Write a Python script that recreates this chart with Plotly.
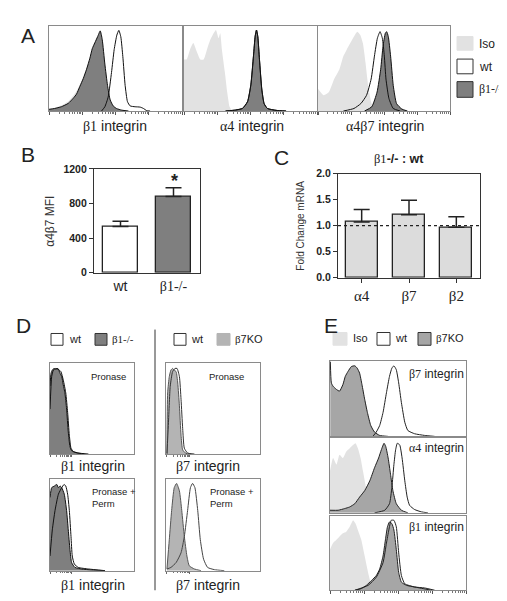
import math
import plotly.graph_objects as go

W, H = 507, 601
SANS = "Liberation Sans, Arial, sans-serif"
SERIF = "Liberation Serif, Times New Roman, serif"

# ---------------- data ----------------
# Panel A histograms: (log decade, normalised count)
A1_iso = [(0, 0.02), (0.2, 0.04), (0.4, 0.07), (0.6, 0.12), (0.75, 0.19), (0.85, 0.25), (0.95, 0.33), (1.05, 0.42),
          (1.15, 0.53), (1.25, 0.66), (1.32, 0.77), (1.40, 0.84), (1.48, 0.89), (1.55, 0.94), (1.61, 0.85),
          (1.69, 0.55), (1.77, 0.30), (1.85, 0.14), (1.94, 0.06), (2.04, 0.03), (2.2, 0.01), (2.4, 0)]
A1_ko = [(0, 0.02), (0.17, 0.03), (0.37, 0.05), (0.58, 0.09), (0.73, 0.15), (0.83, 0.20), (0.93, 0.29),
         (1.03, 0.38), (1.13, 0.49), (1.23, 0.62), (1.30, 0.73), (1.38, 0.80), (1.46, 0.87), (1.54, 0.94),
         (1.60, 0.84), (1.68, 0.55), (1.76, 0.30), (1.84, 0.13), (1.93, 0.06), (2.03, 0.03), (2.19, 0.01),
         (2.39, 0)]
A1_wt = [(1.58, 0), (1.68, 0.05), (1.78, 0.165), (1.88, 0.452), (1.96, 0.72), (2.04, 0.89), (2.10, 0.946),
         (2.16, 0.87), (2.22, 0.64), (2.29, 0.30), (2.36, 0.11), (2.44, 0.06), (2.59, 0.05), (2.74, 0.046),
         (2.84, 0.03), (2.94, 0.004), (3.04, 0)]
A2_iso = [(0, 0.605), (0.08, 0.605), (0.18, 0.72), (0.28, 0.797), (0.38, 0.70), (0.49, 0.605), (0.59, 0.605),
          (0.69, 0.72), (0.79, 0.835), (0.89, 0.912), (0.96, 0.95), (1.04, 0.854), (1.09, 0.912), (1.14, 0.72),
          (1.23, 0.452), (1.30, 0.22), (1.37, 0.05), (1.45, 0)]
A2_ko = [(1.25, 0), (1.55, 0.011), (1.76, 0.03), (1.91, 0.107), (2.01, 0.30), (2.09, 0.644), (2.14, 0.874),
         (2.18, 0.95), (2.22, 0.874), (2.27, 0.605), (2.34, 0.26), (2.41, 0.088), (2.51, 0.03), (2.77, 0.008),
         (3.07, 0)]
A2_wt = [(1.25, 0), (1.55, 0.012), (1.76, 0.032), (1.91, 0.11), (2.01, 0.31), (2.09, 0.65), (2.14, 0.88),
         (2.18, 0.95), (2.22, 0.87), (2.27, 0.60), (2.34, 0.25), (2.41, 0.085), (2.51, 0.03), (2.77, 0.008),
         (3.07, 0)]
A3_iso = [(0, 0.26), (0.17, 0.184), (0.33, 0.222), (0.49, 0.375), (0.65, 0.49), (0.77, 0.644), (0.87, 0.72),
          (0.98, 0.797), (1.09, 0.874), (1.19, 0.931), (1.28, 0.893), (1.36, 0.797), (1.44, 0.567), (1.52, 0.30),
          (1.61, 0.107), (1.69, 0.03), (1.80, 0)]
A3_wt = [(0.77, 0), (1.09, 0.03), (1.30, 0.088), (1.47, 0.184), (1.61, 0.375), (1.71, 0.644), (1.80, 0.854),
         (1.88, 0.931), (1.95, 0.854), (2.01, 0.644), (2.06, 0.375), (2.15, 0.146), (2.28, 0.03), (2.49, 0)]
A3_ko = [(1.41, 0), (1.63, 0.05), (1.79, 0.222), (1.90, 0.49), (1.97, 0.758), (2.04, 0.912), (2.08, 0.931),
         (2.13, 0.874), (2.20, 0.644), (2.28, 0.30), (2.38, 0.088), (2.54, 0.023), (2.71, 0)]

# Panel B
B_groups = ["wt", "β1-/-"]
B_mfi = [535, 880]
B_err = [60, 102]
B_ticks = [0, 400, 800, 1200]

# Panel C
C_genes = ["α4", "β7", "β2"]
C_fold = [1.07, 1.21, 0.97]
C_err = [0.24, 0.28, 0.20]
C_ticks = [0.0, 0.5, 1.0, 1.5, 2.0]

# Panel D histograms
D1_ko = [(0, 0.743), (0.05, 0.886), (0.11, 0.921), (0.19, 0.939), (0.27, 0.929), (0.37, 0.939), (0.48, 0.886),
         (0.56, 0.85), (0.63, 0.761), (0.71, 0.671), (0.79, 0.493), (0.87, 0.243), (0.95, 0.082), (1.03, 0.036),
         (1.19, 0.018), (1.43, 0.007), (1.67, 0)]
D1_wt = [(0, 0.493), (0.08, 0.85), (0.16, 0.921), (0.27, 0.939), (0.40, 0.929), (0.52, 0.904), (0.63, 0.814),
         (0.75, 0.671), (0.84, 0.457), (0.92, 0.207), (1.0, 0.064), (1.11, 0.029), (1.35, 0.011), (1.83, 0)]
D3_ko = [(0, 0.795), (0.08, 0.901), (0.21, 0.919), (0.32, 0.936), (0.40, 0.901), (0.48, 0.919), (0.56, 0.901),
         (0.68, 0.83), (0.79, 0.654), (0.87, 0.442), (0.95, 0.23), (1.03, 0.088), (1.19, 0.035), (1.51, 0.018),
         (1.98, 0.007), (2.62, 0)]
D3_wt = [(0, 0.159), (0.11, 0.442), (0.24, 0.654), (0.40, 0.83), (0.56, 0.901), (0.67, 0.936), (0.75, 0.919),
         (0.84, 0.83), (0.92, 0.654), (1.0, 0.371), (1.06, 0.159), (1.16, 0.071), (1.35, 0.035), (1.83, 0.018),
         (2.62, 0)]
D2_ko = [(0.04, 0.011), (0.07, 0.671), (0.14, 0.85), (0.21, 0.921), (0.28, 0.939), (0.35, 0.921), (0.43, 0.904),
         (0.50, 0.779), (0.57, 0.529), (0.64, 0.207), (0.71, 0.046), (0.85, 0.007), (1.06, 0)]
D2_wt = [(0.04, 0), (0.10, 0.314), (0.18, 0.743), (0.28, 0.904), (0.38, 0.939), (0.47, 0.939), (0.57, 0.85),
         (0.64, 0.60), (0.71, 0.279), (0.78, 0.064), (0.92, 0.011), (1.21, 0)]
D4_ko = [(0.04, 0.018), (0.14, 0.336), (0.24, 0.654), (0.35, 0.901), (0.45, 0.947), (0.57, 0.866), (0.67, 0.654),
         (0.78, 0.371), (0.89, 0.159), (0.99, 0.053), (1.21, 0.018), (1.49, 0)]
D4_wt = [(0.04, 0.018), (0.21, 0.035), (0.43, 0.088), (0.64, 0.194), (0.78, 0.371), (0.92, 0.654), (1.04, 0.901),
         (1.13, 0.947), (1.23, 0.901), (1.35, 0.654), (1.46, 0.336), (1.60, 0.124), (1.77, 0.035), (2.06, 0.011),
         (2.48, 0)]

# Panel E histograms
E1_ko = [(0.01, 0.99), (0.04, 0.709), (0.09, 0.665), (0.19, 0.622), (0.28, 0.60), (0.38, 0.687), (0.45, 0.796),
         (0.53, 0.861), (0.63, 0.926), (0.73, 0.935), (0.80, 0.904), (0.87, 0.839), (0.94, 0.687), (1.02, 0.491),
         (1.10, 0.317), (1.20, 0.143), (1.31, 0.057), (1.46, 0.013), (1.71, 0)]
E1_iso = [(0.01, 0.99), (0.04, 0.709), (0.09, 0.665), (0.19, 0.622), (0.28, 0.60), (0.38, 0.687), (0.45, 0.796),
          (0.53, 0.861), (0.63, 0.926), (0.73, 0.935), (0.80, 0.904), (0.87, 0.845), (0.94, 0.71), (1.02, 0.52),
          (1.10, 0.34), (1.20, 0.15), (1.31, 0.057), (1.46, 0.013), (1.71, 0)]
E1_wt = [(1.26, 0), (1.36, 0.057), (1.46, 0.143), (1.56, 0.317), (1.66, 0.578), (1.75, 0.796), (1.82, 0.904),
         (1.88, 0.935), (1.95, 0.883), (2.02, 0.709), (2.10, 0.448), (2.20, 0.187), (2.29, 0.078), (2.49, 0.035),
         (2.78, 0.013), (3.08, 0)]
E2_iso = [(0, 0.561), (0.09, 0.737), (0.19, 0.649), (0.28, 0.781), (0.38, 0.737), (0.48, 0.825), (0.58, 0.868),
          (0.68, 0.912), (0.75, 0.934), (0.82, 0.868), (0.90, 0.737), (0.97, 0.561), (1.04, 0.386), (1.12, 0.167),
          (1.22, 0.035), (1.31, 0)]
E2_ko = [(0, 0.035), (0.24, 0.035), (0.43, 0.057), (0.58, 0.079), (0.73, 0.123), (0.87, 0.211), (1.02, 0.298),
         (1.17, 0.43), (1.31, 0.605), (1.43, 0.737), (1.51, 0.846), (1.59, 0.934), (1.64, 0.89), (1.71, 0.737),
         (1.78, 0.518), (1.85, 0.298), (1.95, 0.123), (2.10, 0.035), (2.29, 0)]
E2_wt = [(1.31, 0), (1.61, 0.035), (1.75, 0.123), (1.82, 0.342), (1.88, 0.649), (1.93, 0.846), (1.98, 0.934),
         (2.05, 0.912), (2.12, 0.737), (2.20, 0.43), (2.27, 0.211), (2.34, 0.101), (2.49, 0.044), (2.69, 0.013),
         (2.88, 0)]
E3_iso = [(0, 0.546), (0.09, 0.633), (0.19, 0.677), (0.28, 0.721), (0.38, 0.764), (0.48, 0.786), (0.58, 0.852),
          (0.68, 0.939), (0.75, 0.895), (0.82, 0.808), (0.92, 0.677), (1.02, 0.459), (1.12, 0.24), (1.22, 0.066),
          (1.31, 0)]
E3_ko = [(0.73, 0), (0.92, 0.022), (1.07, 0.066), (1.22, 0.131), (1.36, 0.197), (1.46, 0.284), (1.56, 0.459),
         (1.63, 0.677), (1.69, 0.852), (1.75, 0.917), (1.82, 0.895), (1.88, 0.808), (1.95, 0.546), (2.02, 0.24),
         (2.10, 0.109), (2.25, 0.066), (2.49, 0.044), (2.74, 0.022), (2.98, 0)]
E3_wt = [(0.73, 0), (1.12, 0.066), (1.36, 0.175), (1.56, 0.371), (1.66, 0.633), (1.73, 0.808), (1.80, 0.939),
         (1.88, 0.939), (1.95, 0.852), (2.02, 0.502), (2.10, 0.197), (2.20, 0.087), (2.49, 0.044), (2.78, 0.031),
         (3.08, 0)]

# ---------------- styling ----------------
ISO = "#e2e2e2"
KO_DARK = "#7f7f7f"
KO_B7_D = "#b4b4b4"
KO_B7_E = "#a6a6a6"
FRAME = "#8a8a8a"


def fx(p):
    return p / W


def fy(p):
    return 1 - p / H


def names(i):
    return ("x" if i == 1 else f"x{i}", "y" if i == 1 else f"y{i}")


def lay_names(i):
    return ("xaxis" if i == 1 else f"xaxis{i}", "yaxis" if i == 1 else f"yaxis{i}")


def serif(t):
    return f'<span style="font-family:{SERIF}">{t}</span>'


def integ(g):
    return serif(g) + " integrin"


fig = go.Figure()
layout = {}

major = [0, 1, 2, 3, 4]
minor_all = [k + math.log10(m) for k in range(4) for m in range(2, 10)]


def hist_axes(i, x0, x1, y0, y1, ticks="full"):
    xa, ya = lay_names(i)
    xn, yn = names(i)
    xd = dict(domain=[fx(x0), fx(x1)], anchor=yn, range=[0, 4], showline=True, mirror=True,
              linecolor=FRAME, linewidth=1, showgrid=False, zeroline=False, showticklabels=False,
              fixedrange=True)
    if ticks == "full":
        xd.update(ticks="outside", tickvals=major, ticklen=3, tickcolor="#555", tickwidth=1,
                  minor=dict(ticks="outside", tickvals=minor_all, ticklen=2, tickcolor="#777", tickwidth=1))
    elif ticks == "short":
        xd.update(ticks="outside", tickvals=[0, 1], ticklen=2, tickcolor="#666", tickwidth=1,
                  minor=dict(ticks="outside", tickvals=[math.log10(m) for m in range(2, 10)], ticklen=1.5,
                             tickcolor="#777", tickwidth=1))
    else:
        xd.update(ticks="")
    yd = dict(domain=[fy(y1), fy(y0)], anchor=xn, range=[0, 1.0], showline=True, mirror=True,
              linecolor=FRAME, linewidth=1, showgrid=False, zeroline=False, showticklabels=False,
              ticks="", fixedrange=True)
    layout[xa] = xd
    layout[ya] = yd


def curve(i, pts, fill=None, line=None, lw=1.0):
    xn, yn = names(i)
    xs = [p[0] for p in pts]
    ys = [p[1] for p in pts]
    fig.add_trace(go.Scatter(
        x=xs, y=ys, mode="lines", xaxis=xn, yaxis=yn,
        line=dict(color=line if line else fill, width=lw if line else 0, shape="spline", smoothing=0.5),
        fill="tozeroy" if fill else "none", fillcolor=fill,
        hoverinfo="skip", showlegend=False))


# Panel A
hist_axes(1, 41, 174, 12, 99)
hist_axes(2, 176, 309, 12, 99)
hist_axes(3, 310, 442, 12, 99)
curve(1, A1_iso, fill=ISO)
curve(1, A1_ko, fill=KO_DARK, line="#111")
curve(1, A1_wt, line="#111")
curve(2, A2_iso, fill=ISO)
curve(2, A2_ko, fill=KO_DARK, line="#111")
curve(2, A2_wt, line="#111")
curve(3, A3_iso, fill=ISO)
curve(3, A3_ko, fill=KO_DARK, line="#111")
curve(3, A3_wt, line="#111")

# Panel B
fig.add_trace(go.Bar(
    x=[0, 1], y=B_mfi, xaxis="x4", yaxis="y4", width=0.66,
    marker=dict(color=["#ffffff", KO_DARK], line=dict(color="#222", width=1.3)),
    error_y=dict(type="data", symmetric=False, array=B_err, arrayminus=[0, 0],
                 color="#222", thickness=1.5, width=8),
    hoverinfo="skip", showlegend=False))
layout["xaxis4"] = dict(domain=[fx(86), fx(192)], anchor="y4", range=[-0.5, 1.5], showline=True, mirror=True,
                        linecolor="#333", linewidth=1.3, ticks="", tickvals=[0, 1],
                        ticktext=[B_groups[0], serif(B_groups[1])],
                        tickfont=dict(family=SANS, size=14, color="#222"), showgrid=False, zeroline=False,
                        fixedrange=True)
layout["yaxis4"] = dict(domain=[fy(264), fy(158)], anchor="x4", range=[0, 1200], showline=True, mirror=True,
                        linecolor="#333", linewidth=1.3, ticks="outside", ticklen=4, tickcolor="#333",
                        tickvals=B_ticks, ticktext=[f"<b>{v}</b>" for v in B_ticks],
                        tickfont=dict(family=SANS, size=10.5, color="#222"),
                        showgrid=False, zeroline=False, fixedrange=True)

# Panel C
fig.add_trace(go.Bar(
    x=[0, 1, 2], y=C_fold, xaxis="x5", yaxis="y5", width=0.67,
    marker=dict(color="#dcdcdc", line=dict(color="#222", width=1.3)),
    error_y=dict(type="data", symmetric=False, array=C_err, arrayminus=[0, 0, 0],
                 color="#222", thickness=1.5, width=8),
    hoverinfo="skip", showlegend=False))
layout["xaxis5"] = dict(domain=[fx(330), fx(472)], anchor="y5", range=[-0.5, 2.5], showline=True, mirror=True,
                        linecolor="#333", linewidth=1.3, ticks="outside", ticklen=4, tickcolor="#333",
                        tickvals=[0, 1, 2], ticktext=C_genes,
                        tickfont=dict(family=SERIF, size=15, color="#222"), showgrid=False, zeroline=False,
                        fixedrange=True)
layout["yaxis5"] = dict(domain=[fy(269), fy(163)], anchor="x5", range=[0, 2.0], showline=True, mirror=True,
                        linecolor="#333", linewidth=1.3, ticks="outside", ticklen=4, tickcolor="#333",
                        tickvals=C_ticks, ticktext=[f"<b>{v:.1f}</b>" for v in C_ticks],
                        tickfont=dict(family=SANS, size=10.5, color="#222"),
                        showgrid=False, zeroline=False, fixedrange=True)

# Panel D
hist_axes(6, 42, 126, 356, 449, ticks="short")
hist_axes(7, 158, 252, 356, 449, ticks="short")
hist_axes(8, 42, 126, 474, 568, ticks="short")
hist_axes(9, 158, 252, 474, 568, ticks="short")
curve(6, D1_ko, fill=KO_DARK, line="#111")
curve(6, D1_wt, line="#111")
curve(7, D2_ko, fill=KO_B7_D, line="#555")
curve(7, D2_wt, line="#333")
curve(8, D3_ko, fill=KO_DARK, line="#111")
curve(8, D3_wt, line="#111")
curve(9, D4_ko, fill=KO_B7_D, line="#555")
curve(9, D4_wt, line="#444")

# Panel E
hist_axes(10, 322, 458, 354, 431, ticks="none")
hist_axes(11, 322, 458, 433, 509, ticks="none")
hist_axes(12, 322, 458, 512, 588, ticks="full")
curve(10, E1_iso, fill=ISO)
curve(10, E1_ko, fill=KO_B7_E, line="#222")
curve(10, E1_wt, line="#222")
curve(11, E2_iso, fill=ISO)
curve(11, E2_ko, fill=KO_B7_E, line="#222")
curve(11, E2_wt, line="#222")
curve(12, E3_iso, fill=ISO)
curve(12, E3_ko, fill=KO_B7_E, line="#222")
curve(12, E3_wt, line="#222")

# ---------------- annotations ----------------
anns = []


def ann(text, x, y, size=12, family=SANS, xanchor="center", yanchor="middle", color="#222", angle=0,
        align="left"):
    anns.append(dict(text=text, x=fx(x), y=fy(y), xref="paper", yref="paper", showarrow=False,
                     xanchor=xanchor, yanchor=yanchor, textangle=angle, align=align,
                     font=dict(family=family, size=size, color=color)))


# panel letters
ann("A", 20, 22, size=21)
ann("B", 20, 143, size=21)
ann("C", 273, 146, size=21)
ann("D", 15, 318, size=21)
ann("E", 323, 318, size=21)

# Panel A labels
ann(integ("β1"), 107, 114, size=14)
ann(integ("α4"), 244, 114, size=14)
ann(integ("α4β7"), 377, 114, size=14)

shapes = []


def box(x0, y0, x1, y1, fill, line="#333"):
    shapes.append(dict(type="rect", xref="paper", yref="paper", x0=fx(x0), x1=fx(x1), y0=fy(y1), y1=fy(y0),
                       fillcolor=fill, line=dict(color=line, width=1)))


# Panel A legend
box(449, 23, 465, 37, ISO, line=ISO)
box(449, 46, 465, 61, "#ffffff")
box(449, 69, 465, 85, KO_DARK)
ann("Iso", 469, 31, size=12, xanchor="left")
ann("wt", 469, 54, size=12, xanchor="left")
ann("β1-/-", 469, 77, size=12, family=SERIF, xanchor="left")

# Panel B extras
ann("α4β7 MFI", 42, 212, size=12, angle=-90, color="#333")
ann("<b>*</b>", 166, 170, size=18)

# Panel C extras
ann(serif("β1") + "<b>-/- : wt</b>", 391, 148, size=12.5)
ann("Fold Change mRNA", 293, 216, size=10, angle=-90, color="#333")
shapes.append(dict(type="line", xref="x5 domain", yref="y5", x0=0, x1=1, y0=1.0, y1=1.0,
                   line=dict(color="#222", width=1.3, dash="dot")))

# Panel D legend and labels
box(43, 326, 55, 338, "#ffffff")
ann("wt", 59, 332, size=11, xanchor="left")
box(87, 326, 99, 338, KO_DARK)
ann("β1-/-", 102, 332, size=11, family=SERIF, xanchor="left")
box(166, 326, 178, 338, "#ffffff")
ann("wt", 181, 332, size=11, xanchor="left")
box(209, 326, 222, 338, KO_B7_D, line=KO_B7_D)
ann(serif("β") + "7KO", 225, 332, size=11, xanchor="left")
shapes.append(dict(type="line", xref="paper", yref="paper", x0=fx(147), x1=fx(147), y0=fy(322), y1=fy(588),
                   line=dict(color="#333", width=1)))
ann(integ("β1"), 85, 461, size=14)
ann(integ("β1"), 85, 583, size=14)
ann(integ("β7"), 200, 461, size=14)
ann(integ("β7"), 200, 583, size=14)
ann("Pronase", 100, 370, size=9.5)
ann("Pronase", 218, 370, size=9.5)
ann("Pronase +<br>Perm", 82, 493, size=9.5, xanchor="left")
ann("Pronase +<br>Perm", 200, 493, size=9.5, xanchor="left")

# Panel E legend and labels
box(325, 325, 339, 338, ISO, line=ISO)
ann("Iso", 343, 331, size=11, xanchor="left")
box(369, 325, 382, 338, "#ffffff")
ann("wt", 385, 331, size=11, xanchor="left")
box(410, 325, 423, 338, KO_B7_E)
ann(serif("β") + "7KO", 426, 331, size=11, xanchor="left")
ann(integ("β7"), 399, 367, size=12, xanchor="left")
ann(integ("α4"), 399, 443, size=12, xanchor="left")
ann(integ("β1"), 399, 523, size=12, xanchor="left")

fig.update_layout(
    width=W, height=H, margin=dict(l=0, r=0, t=0, b=0),
    paper_bgcolor="white", plot_bgcolor="white",
    annotations=anns, shapes=shapes, showlegend=False, bargap=0,
    font=dict(family=SANS),
    **layout,
)

fig.write_html("out.html")
